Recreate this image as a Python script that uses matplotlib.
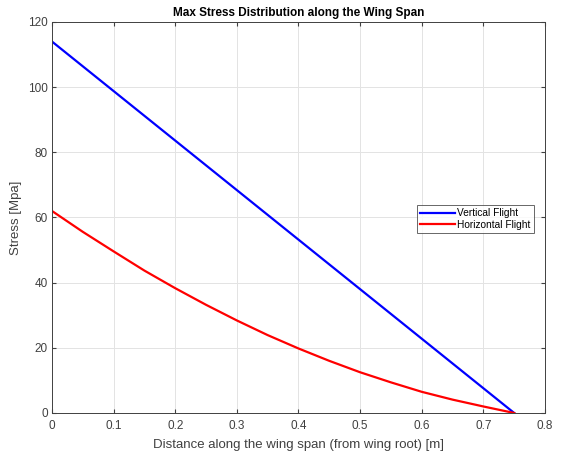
import matplotlib
matplotlib.use("Agg")
import matplotlib.pyplot as plt

# distance along span [m]
x_vert = [0.0, 0.75]
stress_vert = [114.0, 0.0]

x_horiz = [0.0, 0.05, 0.1, 0.15, 0.2, 0.25, 0.3, 0.35, 0.4, 0.45,
           0.5, 0.55, 0.6, 0.65, 0.7, 0.75]
stress_horiz = [62.0, 55.6, 49.6, 43.7, 38.3, 33.2, 28.4, 23.9, 19.8, 16.0,
                12.5, 9.4, 6.5, 4.1, 2.0, 0.0]

xticks = [0, 0.1, 0.2, 0.3, 0.4, 0.5, 0.6, 0.7, 0.8]
yticks = [0, 20, 40, 60, 80, 100, 120]

plt.rcParams['font.family'] = ['Liberation Sans', 'DejaVu Sans']

fig = plt.figure(figsize=(5.68, 4.57), dpi=100)
ax = fig.add_axes([0.0915, 0.0963, 0.868, 0.8556])

ax.plot(x_vert, stress_vert, color='#0000ff', lw=1.6, label='Vertical Flight')
ax.plot(x_horiz, stress_horiz, color='#ff0000', lw=1.6, label='Horizontal Flight')

ax.set_xlim(0, 0.8)
ax.set_ylim(0, 120)
ax.set_xticks(xticks)
ax.set_xticklabels(['0', '0.1', '0.2', '0.3', '0.4', '0.5', '0.6', '0.7', '0.8'])
ax.set_yticks(yticks)
ax.grid(True, color='#e3e3e3', lw=0.7)
ax.set_axisbelow(True)
ax.tick_params(direction='in', length=3, labelsize=8.5, colors='#404040',
               top=True, right=True)
ax.tick_params(axis='x', pad=5)
ax.tick_params(axis='y', pad=3)
for s in ax.spines.values():
    s.set_color('#404040')
    s.set_linewidth(0.7)

ax.set_title('Max Stress Distribution along the Wing Span', fontsize=8.5,
             fontweight='bold', pad=4)
ax.set_xlabel('Distance along the wing span (from wing root) [m]', fontsize=9.5,
              color='#404040', labelpad=5)
ax.set_ylabel('Stress [Mpa]', fontsize=9.5, color='#404040', labelpad=4)

leg = ax.legend(loc='lower left', bbox_to_anchor=(0.74, 0.46), fontsize=7.3,
                frameon=True, fancybox=False, edgecolor='#404040',
                borderpad=0.35, labelspacing=0.15, handlelength=3.4,
                handletextpad=0.2, borderaxespad=0)
leg.get_frame().set_linewidth(0.7)

fig.savefig('out.png', dpi=100)
